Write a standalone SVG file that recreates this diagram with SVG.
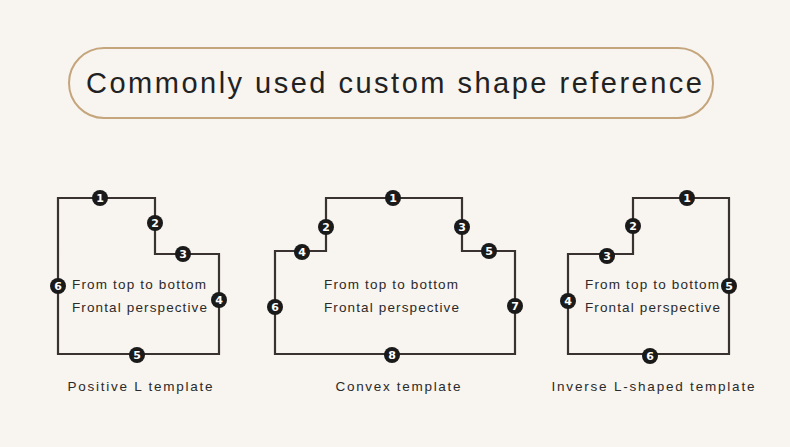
<svg xmlns="http://www.w3.org/2000/svg" width="790" height="447" viewBox="0 0 790 447">
<style>
.bg{fill:#f8f4ef}
.pill{fill:none;stroke:#c4a57c;stroke-width:2}
.title{font-family:"Liberation Sans","DejaVu Sans",sans-serif;font-size:29px;fill:#222;text-anchor:middle}
.edge{fill:none;stroke:#3a3230;stroke-width:2.2}
.b circle{fill:#1a1a1a}
.b text{font-family:"DejaVu Sans","Liberation Sans",sans-serif;font-weight:bold;font-size:11px;fill:#fff;text-anchor:middle}
.t{font-family:"Liberation Sans","DejaVu Sans",sans-serif;font-size:13.5px;fill:#2a2a2a}
.lbl{font-family:"Liberation Sans","DejaVu Sans",sans-serif;font-size:13.5px;fill:#2a2a2a;text-anchor:middle}
</style>
<rect class="bg" x="0" y="0" width="790" height="447"/>
<g id="title">
<rect class="pill" x="69" y="48" width="644" height="70" rx="35"/>
<text class="title" x="394" y="93" textLength="616" lengthAdjust="spacing">Commonly used custom shape reference</text>
</g>
<g id="connectors">
<path class="edge" d="M58,198 H155 V254 H219 V354 H58 Z"/>
<path class="edge" d="M275,251 H326 V198 H462 V251 H515 V354 H275 Z"/>
<path class="edge" d="M568,254 H633 V198 H729 V354 H568 Z"/>
</g>
<g id="positive-L">
<g class="b" transform="translate(100,198)"><circle r="8"/><text y="4">1</text></g>
<g class="b" transform="translate(155,223)"><circle r="8"/><text y="4">2</text></g>
<g class="b" transform="translate(183,254)"><circle r="8"/><text y="4">3</text></g>
<g class="b" transform="translate(219,300)"><circle r="8"/><text y="4">4</text></g>
<g class="b" transform="translate(137,355)"><circle r="8"/><text y="4">5</text></g>
<g class="b" transform="translate(58,286)"><circle r="8"/><text y="4">6</text></g>
<text class="t" x="72" y="289" textLength="134" lengthAdjust="spacing">From top to bottom</text>
<text class="t" x="72" y="312" textLength="135" lengthAdjust="spacing">Frontal perspective</text>
<text class="lbl" x="140" y="391" textLength="145" lengthAdjust="spacing">Positive L template</text>
</g>
<g id="convex">
<g class="b" transform="translate(393,198)"><circle r="8"/><text y="4">1</text></g>
<g class="b" transform="translate(326,227)"><circle r="8"/><text y="4">2</text></g>
<g class="b" transform="translate(462,227)"><circle r="8"/><text y="4">3</text></g>
<g class="b" transform="translate(302,252)"><circle r="8"/><text y="4">4</text></g>
<g class="b" transform="translate(489,251)"><circle r="8"/><text y="4">5</text></g>
<g class="b" transform="translate(275,307)"><circle r="8"/><text y="4">6</text></g>
<g class="b" transform="translate(515,306)"><circle r="8"/><text y="4">7</text></g>
<g class="b" transform="translate(392,355)"><circle r="8"/><text y="4">8</text></g>
<text class="t" x="324" y="289" textLength="134" lengthAdjust="spacing">From top to bottom</text>
<text class="t" x="324" y="312" textLength="135" lengthAdjust="spacing">Frontal perspective</text>
<text class="lbl" x="398" y="391" textLength="125" lengthAdjust="spacing">Convex template</text>
</g>
<g id="inverse-L">
<g class="b" transform="translate(687,198)"><circle r="8"/><text y="4">1</text></g>
<g class="b" transform="translate(633,226)"><circle r="8"/><text y="4">2</text></g>
<g class="b" transform="translate(607,256)"><circle r="8"/><text y="4">3</text></g>
<g class="b" transform="translate(568,301)"><circle r="8"/><text y="4">4</text></g>
<g class="b" transform="translate(729,286)"><circle r="8"/><text y="4">5</text></g>
<g class="b" transform="translate(650,356)"><circle r="8"/><text y="4">6</text></g>
<text class="t" x="585" y="289" textLength="134" lengthAdjust="spacing">From top to bottom</text>
<text class="t" x="585" y="312" textLength="135" lengthAdjust="spacing">Frontal perspective</text>
<text class="lbl" x="653" y="391" textLength="203" lengthAdjust="spacing">Inverse L-shaped template</text>
</g>
</svg>
